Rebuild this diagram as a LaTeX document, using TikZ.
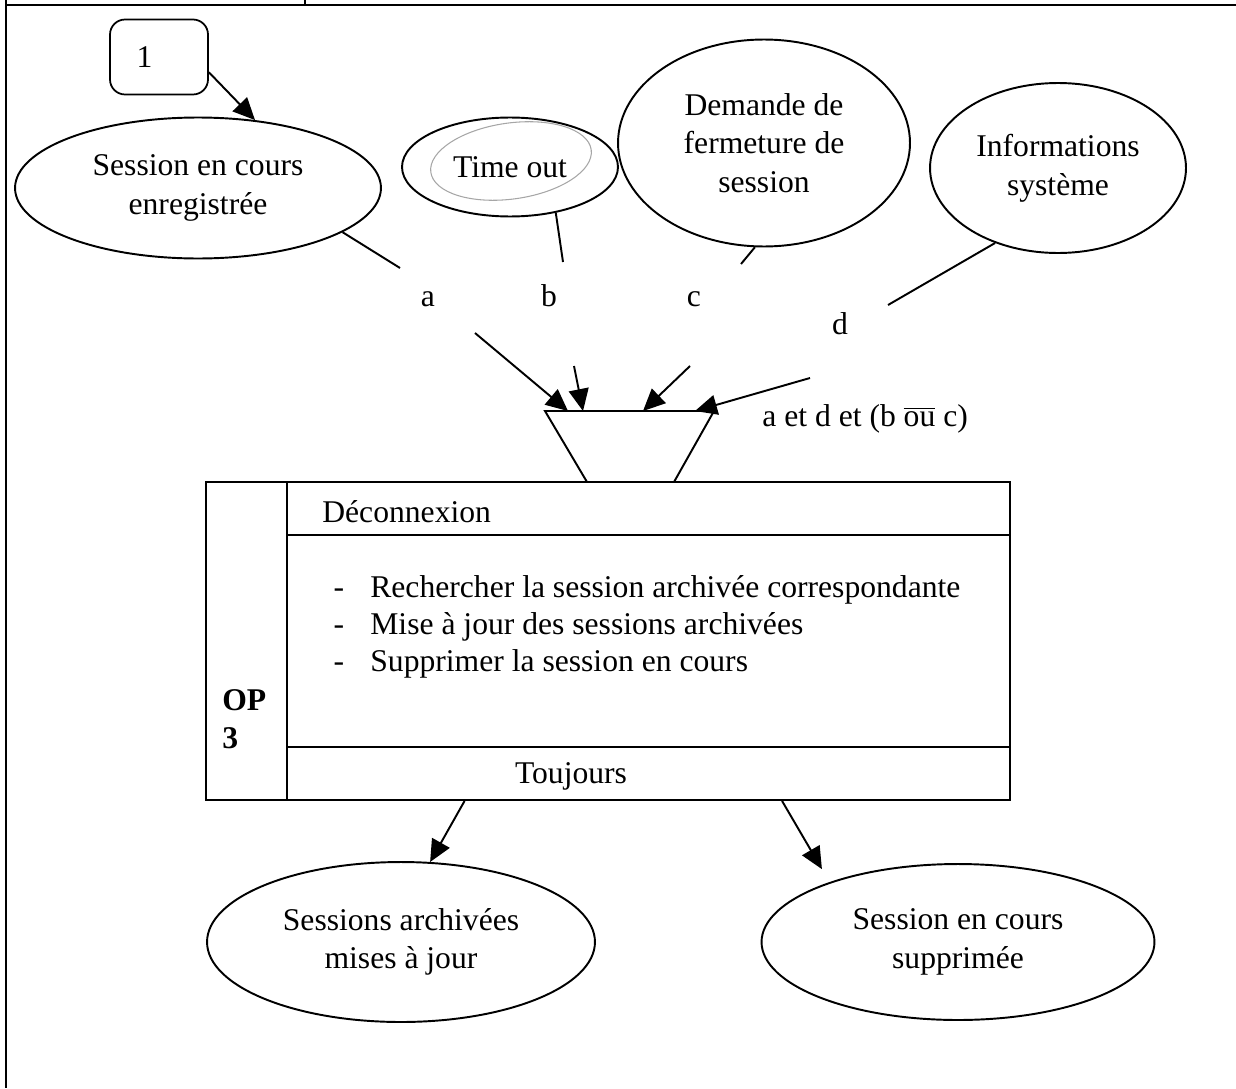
\documentclass[tikz,border=0pt]{standalone}
\usepackage{fontspec}
\setmainfont{Liberation Serif}
\usetikzlibrary{shapes.geometric,arrows.meta,calc}
\newcommand{\ovou}{$\overline{\hbox{ou}}$}
\begin{document}
\begin{tikzpicture}[x=0.02cm,y=-0.02cm,
  every node/.style={font=\fontsize{18}{22}\selectfont},
  ln/.style={line width=1.1pt},
  arr/.style={line width=1.1pt,-{Triangle[length=0.44cm,width=0.4cm]}},
  oval/.style={draw,ellipse,line width=1.1pt,inner sep=0pt,align=center},
  txt/.style={inner sep=0pt},
  ]
\useasboundingbox (0,0) rectangle (1236,1088);

% table borders
\draw[line width=0.8pt] (6,0) -- (6,1088);
\draw[line width=0.8pt] (6,5) -- (1236,5);
\draw[line width=0.8pt] (305,0) -- (305,5);

% source marker
\node[draw,rounded corners=0.3cm,line width=1pt,minimum width=1.96cm,
      minimum height=1.5cm,text width=0.9cm,inner xsep=0.5cm,align=left] (one) at (159,57) {1};

% input events
\node[oval,minimum width=7.32cm,minimum height=2.82cm] (e1) at (198,188) {Session en cours\\enregistrée};
\node[oval,minimum width=4.32cm,minimum height=1.98cm] (to) at (510,167) {Time out};
\draw[gray!70,line width=0.6pt,rotate around={8:(511,161)}] (511,161) ellipse [x radius=1.62cm,y radius=0.76cm];
\node[oval,minimum width=5.84cm,minimum height=4.14cm] (dem) at (764,143) {Demande de\\fermeture de\\session};
\node[oval,minimum width=5.12cm,minimum height=3.4cm] (info) at (1058,168) {Informations\\système};

\draw[arr] (one.-17) -- (e1.50);

% synchronisation funnel
\coordinate (tl) at (545,411);
\coordinate (tr) at (714,411);
\coordinate (br) at (674,482);
\coordinate (bl) at (587,482);
\draw[ln,line join=miter] (tl) -- (tr) -- (br) -- (bl) -- cycle;
\coordinate (tA) at (568,411);
\coordinate (tB) at (583,411);
\coordinate (tC) at (643,411);
\coordinate (tD) at (695,411);

% event labels
\node[txt,anchor=base] (la) at (428,306) {a};
\node[txt,anchor=base] (lb) at (549,306) {b};
\node[txt,anchor=base] (lc) at (694,306) {c};
\node[txt,anchor=base] (ld) at (840,334) {d};
\node[txt,anchor=base west] (cond) at (762,426) {a et d et (b \ovou{} c)};

\coordinate (ain) at (400,268);  \coordinate (aout) at (475,333);
\coordinate (bin) at (563,262);  \coordinate (bout) at (574,366);
\coordinate (cin) at (741,264);  \coordinate (cout) at (690,366);
\coordinate (din) at (888,305);  \coordinate (dout) at (810,378);

\draw[ln] (e1.-17) -- (ain);
\draw[arr] (aout) -- (tA);
\draw[ln] (to.-45) -- (bin);
\draw[arr] (bout) -- (tB);
\draw[ln] (dem.-95) -- (cin);
\draw[arr] (cout) -- (tC);
\draw[ln] (info.-130) -- (din);
\draw[arr] (dout) -- (tD);

% operation box
\node[draw,line width=1.1pt,minimum width=16.08cm,minimum height=6.36cm,inner sep=0pt] (op) at (608,641) {};
\draw[ln] (287,482) -- (287,800);
\draw[ln] (287,535) -- (1010,535);
\draw[ln] (287,747) -- (1010,747);

\node[txt,anchor=base west] (title) at (322,522) {Déconnexion};
\node[txt,anchor=base] (d1) at (339,597) {-};
\node[txt,anchor=base] (d2) at (339,634) {-};
\node[txt,anchor=base] (d3) at (339,671) {-};
\node[txt,anchor=base west] (s1) at (370,597) {Rechercher la session archivée correspondante};
\node[txt,anchor=base west] (s2) at (370,634) {Mise à jour des sessions archivées};
\node[txt,anchor=base west] (s3) at (370,671) {Supprimer la session en cours};
\node[txt,anchor=west,align=left,font=\fontsize{18}{22}\selectfont\bfseries] (opn) at (222,719) {OP\\3};
\node[txt,anchor=base] (rule) at (571,783) {Toujours};

% results
\node[oval,minimum width=7.76cm,minimum height=3.2cm] (sa) at (401,942) {Sessions archivées\\mises à jour};
\node[oval,minimum width=7.86cm,minimum height=3.12cm] (sc) at (958,942) {Session en cours\\supprimée};

\draw[arr] ($(op.south west)!0.322!(op.south east)$) -- (sa.70);
\draw[arr,shorten >=0.3cm] ($(op.south west)!0.716!(op.south east)$) -- (sc.155);
\end{tikzpicture}
\end{document}
